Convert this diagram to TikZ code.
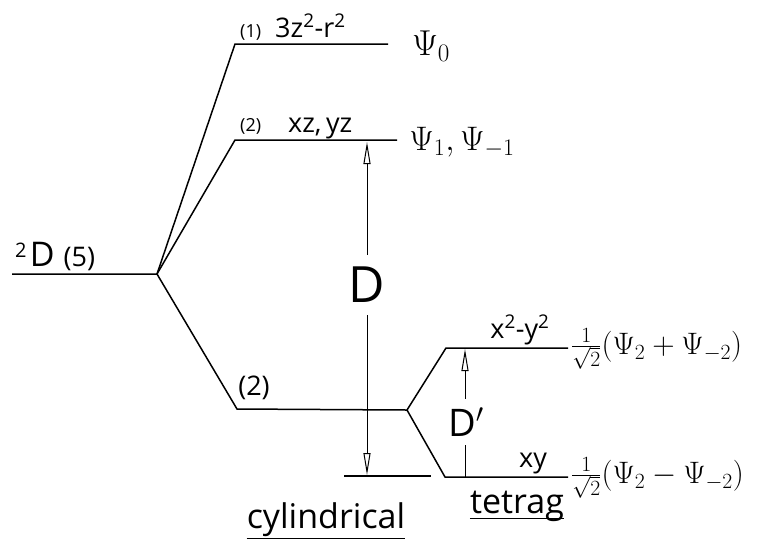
\documentclass[tikz,border=0pt]{standalone}
\usepackage{fix-cm}
\usepackage{fontspec}
\setmainfont{Open Sans}
\usetikzlibrary{arrows.meta}

\begin{document}
\begin{tikzpicture}[x=1pt, y=-1pt,
  lvl/.style={line width=1.5pt, line join=miter},
  arr/.style={line width=1pt, -{Triangle[open, length=22pt, width=7pt]}},
  tag/.style={font=\fontsize{18}{20}\selectfont, inner sep=0pt},
  lab/.style={font=\fontsize{27}{30}\selectfont, inner sep=0pt},
  wfn/.style={font=\fontsize{31}{34}\selectfont, inner sep=0pt},
  hdr/.style={font=\fontsize{34}{38}\selectfont, inner sep=0pt},
  big/.style={font=\fontsize{50}{50}\selectfont, inner sep=12pt},
]
\useasboundingbox (0,0) rectangle (759,555);
% ---- free ion level ----
\coordinate (ionL) at ( 12,274);
\coordinate (ionR) at (157,274);
% ---- cylindrical field levels ----
\coordinate (aL) at (235, 44);
\coordinate (aR) at (388, 44);
\coordinate (eL) at (235,140);
\coordinate (eR) at (397,140);
\coordinate (bL) at (237,409);
\coordinate (bR) at (407,410);
\coordinate (cylL) at (344,476);
\coordinate (cylR) at (431,476);
% ---- tetragonal splitting of the lower pair ----
\coordinate (tuL) at (446,348);
\coordinate (tuR) at (568,348);
\coordinate (tlL) at (445,477);
\coordinate (tlR) at (568,477);
\draw[lvl] (ionL) -- (ionR) -- (aL) -- (aR);
\draw[lvl] (ionR) -- (eL) -- (eR);
\draw[lvl] (ionR) -- (bL) -- (bR) -- (tuL) -- (tuR);
\draw[lvl] (bR) -- (tlL) -- (tlR);
\draw[lvl] (cylL) -- (cylR);
% ---- splitting D (cylindrical) ----
\node[big] (Dlab) at (367,285) {D};
\coordinate (Dtop) at (367,142);
\coordinate (Dbot) at (367,475);
\draw[arr] (Dlab.north) -- (Dtop);
\draw[arr] (Dlab.south) -- (Dbot);
% ---- splitting D' (tetragonal) ----
\node[big, font=\fontsize{38}{40}\selectfont, inner sep=9pt] (Dp) at (466,422) {D$'$};
\coordinate (Dptop) at (465,349);
\coordinate (Dpbot) at (465,477);
\draw[arr] (Dp.north -| Dptop) -- (Dptop);
\draw[line width=1pt] (Dp.south -| Dpbot) -- (Dpbot);
% ---- level labels ----
\node[hdr, anchor=base west] (ion) at (15,266)
  {\fontsize{20}{22}\selectfont\raisebox{9pt}{2}\,\fontsize{34}{38}\selectfont D \fontsize{27}{30}\selectfont(5)};
\node[tag, anchor=base west] (n1) at (240,37) {(1)};
\node[lab, anchor=base west] (f1) at (275,37) {3z\textsuperscript{2}-r\textsuperscript{2}};
\node[wfn, font=\fontsize{36}{38}\selectfont] (p1) at (431,46) {$\Psi_0$};
\node[tag, anchor=base west] (n2) at (240,131) {(2)};
\node[lab, anchor=base west] (f2) at (288,132) {xz,\,yz};
\node[wfn, font=\fontsize{34}{38}\selectfont] (p2) at (462,142) {$\Psi_1,\Psi_{-1}$};
\node[lab] (n3) at (254,388) {(2)};
\node[lab] (f3) at (520,330) {x\textsuperscript{2}-y\textsuperscript{2}};
\node[wfn, anchor=west] (p3) at (571,349) {$\frac{1}{\sqrt{2}}(\Psi_2+\Psi_{-2})$};
\node[lab] (f4) at (533,464) {xy};
\node[wfn, anchor=west] (p4) at (571,478) {$\frac{1}{\sqrt{2}}(\Psi_2-\Psi_{-2})$};
% ---- field symmetry captions ----
\node[hdr, anchor=base] (cyl) at (326,528) {cylindrical};
\node[hdr, anchor=base] (tet) at (517,513) {tetrag};
\draw[line width=1pt] ([yshift=-10pt]cyl.base west) -- ([yshift=-10pt]cyl.base east);
\draw[line width=1pt] ([yshift=-5pt]tet.base west) -- ([yshift=-5pt]tet.base east);
\end{tikzpicture}
\end{document}
